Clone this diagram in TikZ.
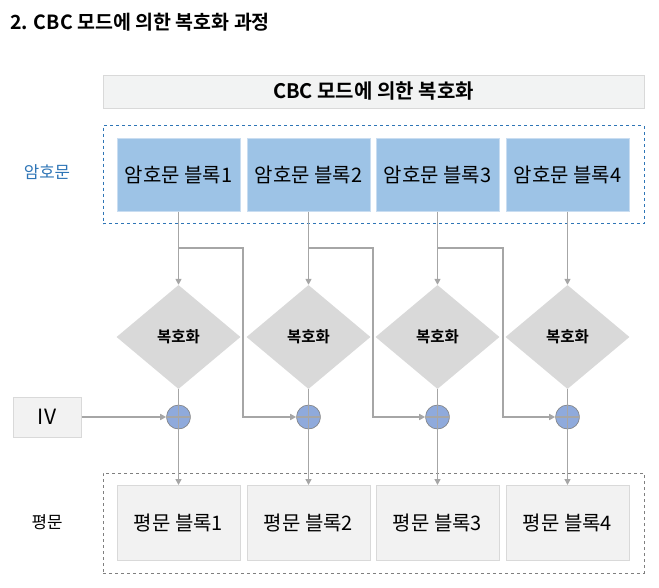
\documentclass[tikz,border=0pt]{standalone}
\usepackage{fontspec}
\setmainfont{Noto Sans CJK KR}[BoldFont={Noto Sans CJK KR Bold}]
\usetikzlibrary{shapes.geometric,arrows.meta}
\definecolor{cblue}{HTML}{9DC3E6}
\definecolor{cblueb}{HTML}{C9DDF1}
\definecolor{dblue}{HTML}{2E75B6}
\definecolor{lgray}{HTML}{A6A6A6}
\definecolor{dgray}{HTML}{D9D9D9}
\definecolor{pfill}{HTML}{F2F2F2}
\definecolor{hfill}{HTML}{F2F3F3}
\definecolor{xfill}{HTML}{8FAADC}
\definecolor{mgray}{HTML}{7F7F7F}
\tikzset{
  cblock/.style={draw=cblueb, line width=1pt, fill=cblue, minimum width=123pt, minimum height=73pt, inner sep=0pt, font=\fontsize{20}{23}\selectfont},
  pblock/.style={draw=dgray, line width=1pt, fill=pfill, minimum width=123pt, minimum height=75pt, inner sep=0pt, font=\fontsize{20}{23}\selectfont},
  dec/.style={diamond, fill=dgray, minimum width=124pt, minimum height=104pt, inner sep=0pt, font=\bfseries\fontsize{15.5}{18}\selectfont},
  xorc/.style={circle, draw=mgray, line width=0.6pt, fill=xfill, minimum size=24pt, inner sep=0pt},
  conn/.style={draw=lgray, line width=1.5pt},
  arr/.style={conn, -{Triangle[length=6pt,width=6pt]}},
  lbl/.style={font=\fontsize{16.8}{20}\selectfont},
}
\begin{document}
\begin{tikzpicture}[x=1pt,y=-1pt]
\useasboundingbox (0,0) rectangle (659,587);
% title
\node[anchor=west, font=\bfseries\fontsize{19.5}{23}\selectfont, inner sep=0pt] (title) at (10,22) {2. CBC 모드에 의한 복호화 과정};
% header
\node[draw=dgray, line width=1pt, fill=hfill, minimum width=541pt, minimum height=33pt, inner sep=0pt, font=\bfseries\fontsize{20}{23}\selectfont] (head) at (373.5,91.5) {CBC 모드에 의한 복호화};
% dashed frames
\node[draw=dblue, dashed, line width=1pt, minimum width=541pt, minimum height=98pt, inner sep=0pt] (cframe) at (373.5,174.5) {};
\node[draw=mgray, dashed, line width=1pt, minimum width=541pt, minimum height=100pt, inner sep=0pt] (pframe) at (373.5,523) {};
% side labels
\node[lbl, text=dblue] (clbl) at (47,172) {암호문};
\node[lbl] (plbl) at (47,522) {평문};
% IV
\node[draw=dgray, line width=1pt, fill=pfill, minimum width=68pt, minimum height=40pt, inner sep=0pt, font=\fontsize{21}{24}\selectfont] (iv) at (47,417) {IV};
% blocks
\foreach \i/\x in {1/178.5,2/308.5,3/437.5,4/567.5}{
  \node[cblock] (c\i) at (\x,174.5) {암호문 블록\i};
  \node[dec] (d\i) at (\x,337) {복호화};
  \node[xorc] (x\i) at (\x,417) {};
  \node[pblock] (p\i) at (\x,523) {평문 블록\i};
}
% branch coordinates
\coordinate (b1) at (243,248);
\coordinate (b2) at (373,248);
\coordinate (b3) at (503,248);
% connectors
\foreach \i in {1,2,3,4}{
  \draw[arr] (c\i.south) -- (d\i.north);
  \draw[conn] (d\i.south) -- (x\i.north);
  \draw[conn, line width=1.2pt] (x\i.north) -- (x\i.south);
  \draw[conn, line width=1.2pt] (x\i.west) -- (x\i.east);
  \draw[arr] (x\i.south) -- (p\i.north);
}
\draw[arr] (c1.south |- b1) -- (b1) |- (x2.west);
\draw[arr] (c2.south |- b2) -- (b2) |- (x3.west);
\draw[arr] (c3.south |- b3) -- (b3) |- (x4.west);
\draw[arr] (iv.east) -- (x1.west);
\end{tikzpicture}
\end{document}
